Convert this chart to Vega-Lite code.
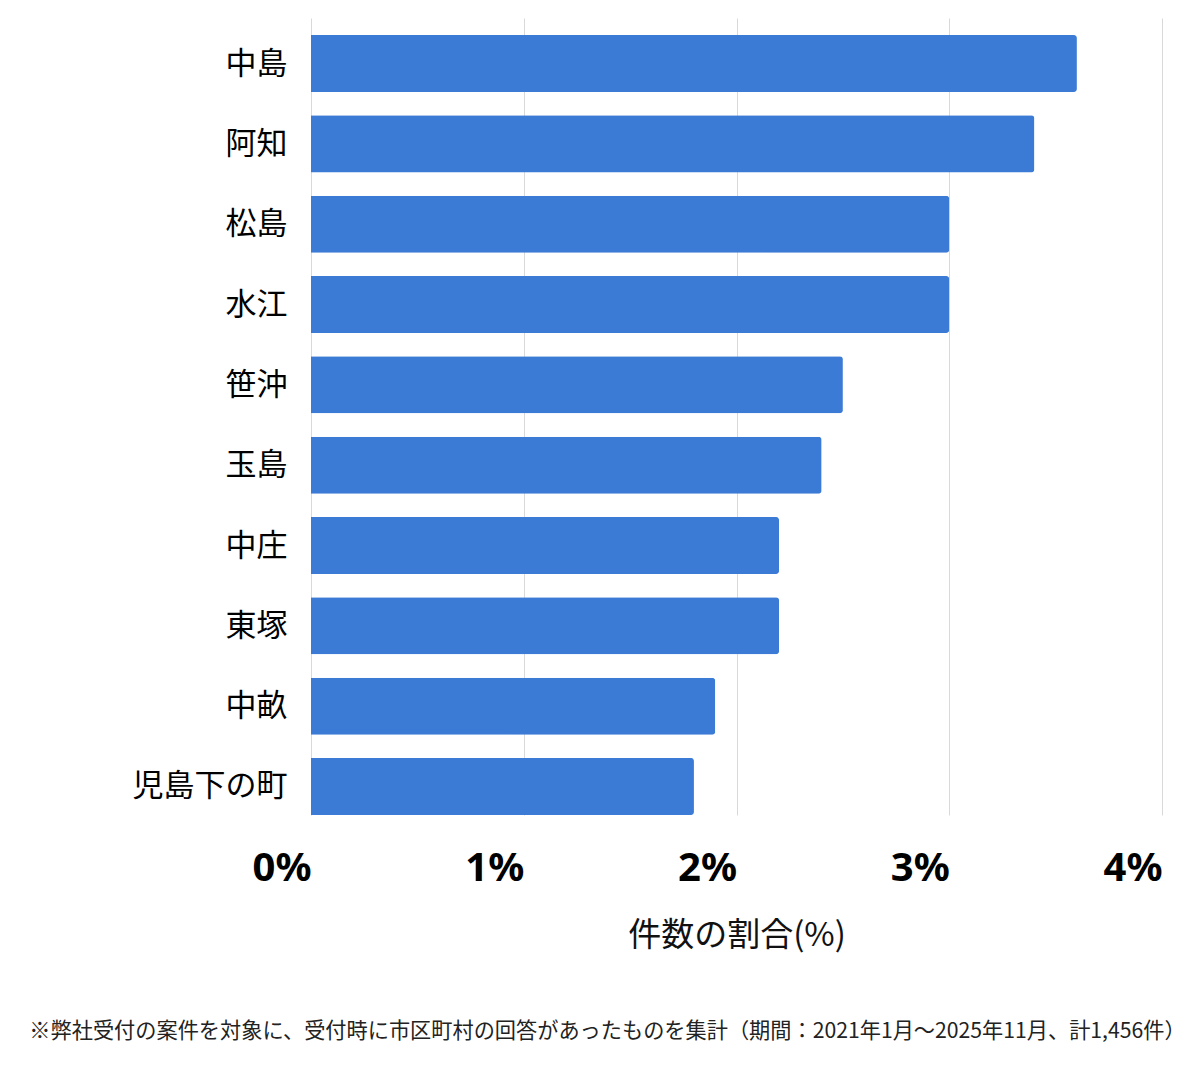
{
  "$schema": "https://vega.github.io/schema/vega-lite/v6.json",
  "autosize": "none",
  "width": 851,
  "height": 797,
  "padding": {"left": 311, "top": 18, "right": 38, "bottom": 254},
  "background": "white",
  "config": {
    "view": {"stroke": null},
    "font": "Noto Sans CJK JP"
  },
  "title": {
    "text": "※弊社受付の案件を対象に、受付時に市区町村の回答があったものを集計（期間：2021年1月～2025年11月、計1,456件）",
    "orient": "bottom",
    "anchor": "middle",
    "frame": "group",
    "dx": -129,
    "offset": 69,
    "fontSize": 21.2,
    "fontWeight": "normal",
    "color": "#222222",
    "font": "Noto Sans CJK JP"
  },
  "data": {
    "values": [
      {"area": "中島", "pct": 3.6},
      {"area": "阿知", "pct": 3.4},
      {"area": "松島", "pct": 3.0},
      {"area": "水江", "pct": 3.0},
      {"area": "笹沖", "pct": 2.5},
      {"area": "玉島", "pct": 2.4},
      {"area": "中庄", "pct": 2.2},
      {"area": "東塚", "pct": 2.2},
      {"area": "中畝", "pct": 1.9},
      {"area": "児島下の町", "pct": 1.8}
    ]
  },
  "mark": {"type": "bar", "color": "#3c7bd5", "cornerRadiusEnd": 3},
  "encoding": {
    "y": {
      "field": "area",
      "type": "nominal",
      "sort": null,
      "scale": {"paddingInner": 0.29, "paddingOuter": 0.106, "align": 1},
      "axis": {
        "title": null,
        "ticks": false,
        "tickSize": 0,
        "domain": false,
        "grid": false,
        "labelFontSize": 31,
        "labelColor": "#000000",
        "labelPadding": 24,
        "labelOffset": 1,
        "labelFont": "Noto Sans CJK JP"
      }
    },
    "x": {
      "field": "pct",
      "type": "quantitative",
      "scale": {"domain": [0, 4], "nice": false},
      "axis": {
        "title": "件数の割合(%)",
        "titleFontSize": 33,
        "titleFontWeight": "normal",
        "titleColor": "#111111",
        "titlePadding": 31,
        "titleFont": "Noto Sans CJK JP",
        "values": [0, 1, 2, 3, 4],
        "labelExpr": "datum.value + '%'",
        "labelAlign": "right",
        "labelBaseline": "top",
        "labelFontSize": 40,
        "labelFontWeight": "bold",
        "labelColor": "#000000",
        "labelPadding": 33,
        "labelFont": "Noto Sans",
        "ticks": false,
        "tickSize": 0,
        "domain": false,
        "grid": true,
        "gridColor": "#d9d9d9",
        "gridWidth": 1
      }
    }
  }
}
